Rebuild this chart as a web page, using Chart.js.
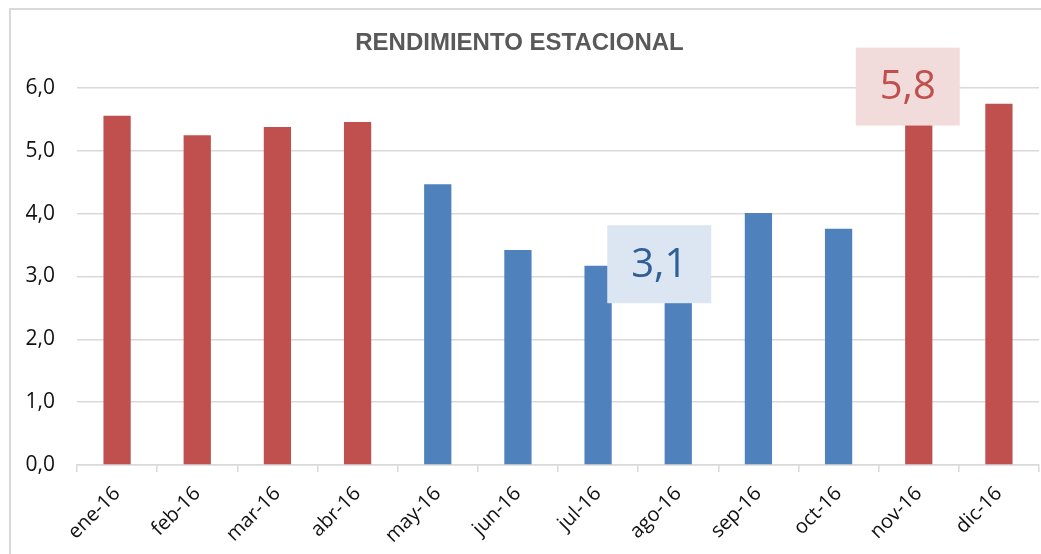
<!DOCTYPE html>
<html>
<head>
<meta charset="utf-8">
<script src="https://cdn.jsdelivr.net/npm/chart.js@4.4.1/dist/chart.umd.min.js"></script>
<style>
  html, body { margin: 0; padding: 0; background: #fff; overflow: hidden; }
  #marco {
    position: absolute; left: 9px; top: 8px; width: 1100px; height: 620px;
    border: 2px solid #d9d9d9; box-sizing: border-box;
  }
  #wrap { position: absolute; left: 0; top: 0; width: 1041px; height: 554px; }
</style>
</head>
<body>
<div id="marco"></div>
<div id="wrap"><canvas id="grafico" width="1041" height="554"></canvas></div>
<script>
// ── Datos ─────────────────────────────────────────────
const meses = ['ene-16', 'feb-16', 'mar-16', 'abr-16', 'may-16', 'jun-16',
               'jul-16', 'ago-16', 'sep-16', 'oct-16', 'nov-16', 'dic-16'];
const rendimiento = [5.56, 5.25, 5.38, 5.46, 4.47, 3.42, 3.17, 3.10, 4.01, 3.76, 5.80, 5.75];
const temporada = ['alta', 'alta', 'alta', 'alta', 'baja', 'baja',
                   'baja', 'baja', 'baja', 'baja', 'alta', 'alta'];
const ticksY = [0, 1, 2, 3, 4, 5, 6];
const destacados = [7, 10]; // mínimo y máximo

const colores = { alta: '#c0504d', baja: '#4f81bd' };
const cajas = {
    baja: { fondo: '#dce6f2', texto: '#2f5f97', dx: -19, dy: -6 },
    alta: { fondo: '#f2dcdb', texto: '#c0504d', dx: -11, dy: -14 }
};

const fmt = v => v.toFixed(1).replace('.', ',');

// ── Plugin: cajas de valor destacado ──────────────────
const cajaValor = {
    id: 'cajaValor',
    afterDatasetsDraw(chart) {
        const { ctx, scales: { x, y } } = chart;
        destacados.forEach(i => {
            const c = cajas[temporada[i]];
            const cx = x.getPixelForValue(i) + c.dx;
            const cy = y.getPixelForValue(rendimiento[i]) + c.dy;
            const w = 104, h = 78;
            ctx.save();
            ctx.fillStyle = c.fondo;
            ctx.fillRect(cx - w / 2, cy - h / 2, w, h);
            ctx.fillStyle = c.texto;
            ctx.font = '40px "Open Sans"';
            ctx.textAlign = 'center';
            ctx.textBaseline = 'middle';
            ctx.fillText(fmt(rendimiento[i]), cx, cy + 1);
            ctx.restore();
        });
    }
};

new Chart(document.getElementById('grafico'), {
    type: 'bar',
    data: {
        labels: meses,
        datasets: [{
            data: rendimiento,
            backgroundColor: temporada.map(t => colores[t]),
            barPercentage: 0.34,
            categoryPercentage: 1
        }]
    },
    options: {
        responsive: false,
        animation: false,
        layout: { padding: { top: 30, right: 2, left: 0, bottom: 0 } },
        plugins: {
            legend: { display: false },
            tooltip: { enabled: false },
            title: {
                display: true,
                text: 'RENDIMIENTO ESTACIONAL',
                color: '#595959',
                font: { family: '"Liberation Sans Narrow", "Liberation Sans"', size: 24, weight: 'bold', lineHeight: 1.1 },
                padding: { top: 0, bottom: 31.6 }
            }
        },
        scales: {
            x: {
                grid: { offset: true, drawOnChartArea: false, color: '#d9d9d9', lineWidth: 1.5, tickLength: 7 },
                border: { color: '#d9d9d9', width: 1.5 },
                ticks: {
                    color: '#111',
                    font: { family: '"Open Sans"', size: 20 },
                    minRotation: 45, maxRotation: 45,
                    padding: 10
                },
                afterFit(s) { s.height = 89; }
            },
            y: {
                min: 0, max: 6,
                afterBuildTicks(s) { s.ticks = ticksY.map(v => ({ value: v })); },
                grid: { color: '#d9d9d9', lineWidth: 1.5, drawTicks: false },
                border: { display: false },
                ticks: {
                    color: '#111',
                    font: { family: '"Open Sans"', size: 21 },
                    padding: 22,
                    callback: v => fmt(v)
                },
                afterFit(s) { s.width = 77; }
            }
        }
    },
    plugins: [cajaValor]
});
</script>
</body>
</html>
